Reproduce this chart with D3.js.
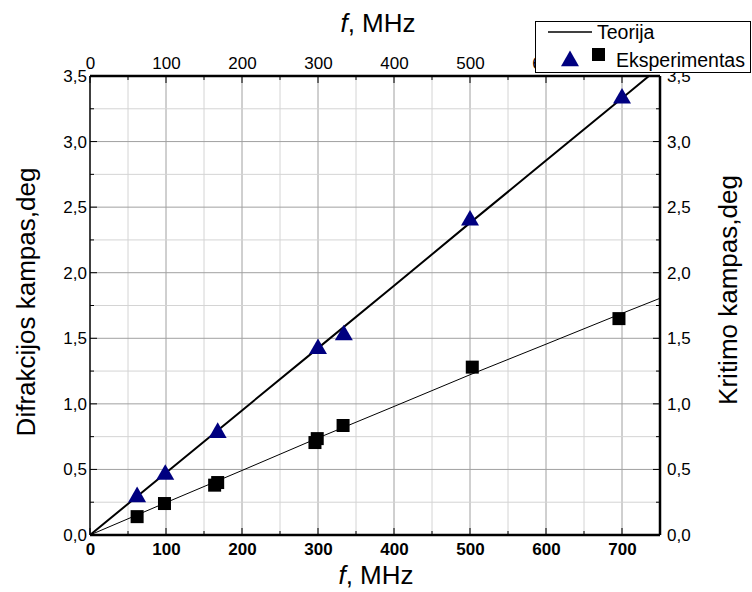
<!DOCTYPE html>
<html><head><meta charset="utf-8">
<script src="https://cdn.jsdelivr.net/npm/d3@7"></script>
<style>body{margin:0;background:#fff}svg{display:block;font-family:"Liberation Sans",Arial,sans-serif}</style>
</head><body><svg id="c" width="752" height="592"></svg>
<script>
// data
const triF = [62, 99, 168, 300, 334, 500, 700];
const triV = [0.29, 0.46, 0.78, 1.42, 1.525, 2.40, 3.33];
const sqF = [62, 98, 164, 168, 296, 299, 333, 503, 696];
const sqV = [0.14, 0.24, 0.38, 0.40, 0.705, 0.735, 0.835, 1.28, 1.65];
const theoF = [0, 100, 200, 300, 400, 500, 600, 700, 750];
const theoUpper = [0, 0.475, 0.95, 1.425, 1.90, 2.38, 2.855, 3.33, 3.57];
const theoLower = [0, 0.247, 0.492, 0.74, 0.98, 1.222, 1.455, 1.69, 1.805];
const xTicks = [0, 100, 200, 300, 400, 500, 600, 700];
const yTicks = [0, 0.5, 1.0, 1.5, 2.0, 2.5, 3.0, 3.5];

const svg = d3.select("#c");
const L = 90, R = 660, T = 76, B = 535;
const x = d3.scaleLinear().domain([0, 750]).range([L, R]);
const y = d3.scaleLinear().domain([0, 3.5]).range([B, T]);
const fmt = d => d.toFixed(1).replace(".", ",");

// grid
const g = svg.append("g");
d3.range(50, 750, 50).forEach(v => {
  g.append("line").attr("x1", x(v)).attr("x2", x(v)).attr("y1", T).attr("y2", B)
   .attr("stroke", v % 100 === 0 ? "#a0a0a0" : "#d4d4d4").attr("stroke-width", 1);
});
d3.range(0.25, 3.5, 0.25).forEach(v => {
  const major = Math.abs(v * 2 - Math.round(v * 2)) < 1e-6;
  g.append("line").attr("x1", L).attr("x2", R).attr("y1", y(v)).attr("y2", y(v))
   .attr("stroke", major ? "#a0a0a0" : "#d4d4d4").attr("stroke-width", 1);
});

// clip
svg.append("clipPath").attr("id", "pc").append("rect").attr("x", L).attr("y", T).attr("width", R - L).attr("height", B - T);

const line = d3.line().x(d => x(d[0])).y(d => y(d[1]));
svg.append("path").datum(theoF.map((f, i) => [f, theoUpper[i]])).attr("d", line)
  .attr("fill", "none").attr("stroke", "#000").attr("stroke-width", 2).attr("clip-path", "url(#pc)");
svg.append("path").datum(theoF.map((f, i) => [f, theoLower[i]])).attr("d", line)
  .attr("fill", "none").attr("stroke", "#000").attr("stroke-width", 1).attr("clip-path", "url(#pc)");

// markers
const tri = d3.symbol().type(d3.symbolTriangle).size(140);
triF.forEach((f, i) => {
  svg.append("path").attr("d", tri()).attr("transform", `translate(${x(f)},${y(triV[i])})`)
    .attr("fill", "#000080");
});
sqF.forEach((f, i) => {
  svg.append("rect").attr("x", x(f) - 6.5).attr("y", y(sqV[i]) - 6.5).attr("width", 13).attr("height", 13)
    .attr("fill", "#000");
});

// axes
const tickStyle = (sel) => { sel.select(".domain").remove(); sel.selectAll("text").attr("fill", "#000"); };
const ax = svg.append("g").attr("transform", `translate(0,${B})`)
  .call(d3.axisBottom(x).tickValues(xTicks).tickSize(0).tickPadding(8).tickFormat(d3.format("d")));
tickStyle(ax); ax.selectAll("text").attr("font-size", 17).attr("font-weight", "bold");
const axT = svg.append("g").attr("transform", `translate(0,${T})`)
  .call(d3.axisTop(x).tickValues(xTicks).tickSize(0).tickPadding(7).tickFormat(d3.format("d")));
tickStyle(axT); axT.selectAll("text").attr("font-size", 17);
const ayL = svg.append("g").attr("transform", `translate(${L},0)`)
  .call(d3.axisLeft(y).tickValues(yTicks).tickSize(0).tickPadding(3).tickFormat(fmt));
tickStyle(ayL); ayL.selectAll("text").attr("font-size", 17);
const ayR = svg.append("g").attr("transform", `translate(${R},0)`)
  .call(d3.axisRight(y).tickValues(yTicks).tickSize(0).tickPadding(7).tickFormat(fmt));
tickStyle(ayR); ayR.selectAll("text").attr("font-size", 17);

// inward ticks
const tk = svg.append("g").attr("stroke", "#000").attr("stroke-width", 1);
d3.range(0, 3.51, 0.25).forEach(v => {
  const len = Math.abs(v * 2 - Math.round(v * 2)) < 1e-6 ? 7 : 4;
  tk.append("line").attr("x1", L).attr("x2", L + len).attr("y1", y(v)).attr("y2", y(v));
  tk.append("line").attr("x1", R).attr("x2", R - len).attr("y1", y(v)).attr("y2", y(v));
});
d3.range(0, 751, 50).forEach(v => {
  const len = v % 100 === 0 ? 7 : 4;
  tk.append("line").attr("x1", x(v)).attr("x2", x(v)).attr("y1", T).attr("y2", T + len);
  tk.append("line").attr("x1", x(v)).attr("x2", x(v)).attr("y1", B).attr("y2", B - len);
});

// frame
svg.append("line").attr("x1", L).attr("x2", R).attr("y1", B).attr("y2", B).attr("stroke", "#000").attr("stroke-width", 2.5);
svg.append("line").attr("x1", L).attr("x2", R).attr("y1", T).attr("y2", T).attr("stroke", "#000").attr("stroke-width", 2.5);
svg.append("line").attr("x1", L).attr("x2", L).attr("y1", T).attr("y2", B).attr("stroke", "#000").attr("stroke-width", 1.5);
svg.append("line").attr("x1", R).attr("x2", R).attr("y1", T).attr("y2", B).attr("stroke", "#000").attr("stroke-width", 2.5);

// titles
const title = (tx, ty, rot) => svg.append("text").attr("transform", `translate(${tx},${ty}) rotate(${rot})`)
    .attr("text-anchor", "middle").attr("font-size", 26).attr("fill", "#000");
let t1 = title(378, 32, 0); t1.append("tspan").attr("font-style", "italic").text("f"); t1.append("tspan").text(", MHz");
let t2 = title(376, 584, 0); t2.append("tspan").attr("font-style", "italic").text("f"); t2.append("tspan").text(", MHz");
title(35, 302, -90).text("Difrakcijos kampas,deg");
title(737, 290, -90).text("Kritimo kampas,deg");

// legend
const lg = svg.append("g");
lg.append("rect").attr("x", 535.5).attr("y", 21.5).attr("width", 215).attr("height", 51)
  .attr("fill", "#fff").attr("stroke", "#000").attr("stroke-width", 1);
lg.append("line").attr("x1", 548).attr("x2", 592).attr("y1", 32).attr("y2", 32).attr("stroke", "#000").attr("stroke-width", 1.5);
lg.append("text").attr("x", 597).attr("y", 39).attr("font-size", 19.5).text("Teorija");
lg.append("path").attr("d", tri()).attr("transform", "translate(570,61)").attr("fill", "#000080");
lg.append("rect").attr("x", 592).attr("y", 48).attr("width", 13).attr("height", 13).attr("fill", "#000");
lg.append("text").attr("x", 616).attr("y", 67).attr("font-size", 19.5).text("Eksperimentas");
</script></body></html>
